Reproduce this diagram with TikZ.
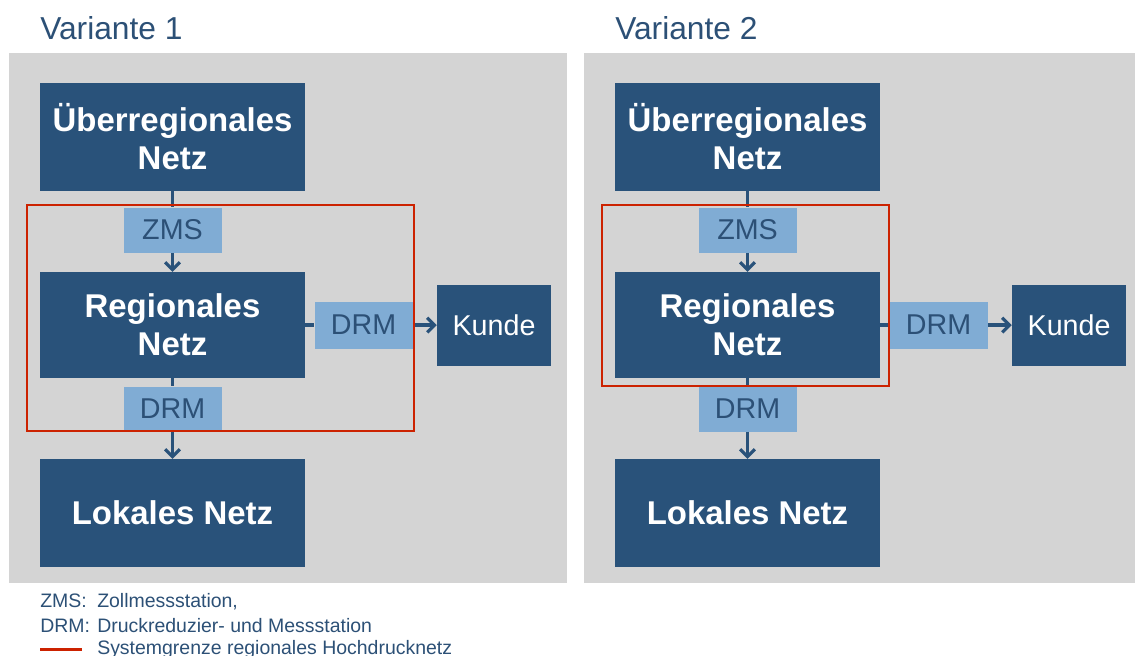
\documentclass[tikz,border=0pt]{standalone}
\usepackage{fontspec}
\setmainfont{Liberation Sans}
\usetikzlibrary{arrows.meta, positioning}
\definecolor{netzblau}{RGB}{41,82,122}
\definecolor{stationblau}{RGB}{128,172,212}
\definecolor{hintergrund}{RGB}{212,212,212}
\definecolor{grenzrot}{RGB}{204,34,0}
\definecolor{textblau}{RGB}{44,80,118}

\begin{document}
\begin{tikzpicture}[x=0.75pt, y=-0.75pt, >={Straight Barb[length=5.5pt, width=11pt]}]
	\tikzset{%
		netz/.style={rectangle, fill=netzblau, text=white, font={\fontsize{24.7}{28.5}\selectfont\bfseries}, align=center, inner sep=0pt, minimum width=198.75pt},
		station/.style={rectangle, fill=stationblau, text=textblau, font={\fontsize{21.5}{25}\selectfont}, inner sep=0pt, minimum width=73.5pt, minimum height=33.75pt},
		kunde/.style={rectangle, fill=netzblau, text=white, font={\fontsize{21.5}{25}\selectfont}, inner sep=0pt, minimum width=85.5pt, minimum height=60.75pt},
		verbindung/.style={draw=netzblau, line width=2.4pt},
		grenze/.style={draw=grenzrot, line width=1.8pt},
		legende/.style={anchor=base west, text=textblau, font={\fontsize{14.6}{17}\selectfont}, inner sep=0pt}
	}
	\useasboundingbox (0,0) rectangle (1135,656);
	\foreach \nr/\dx in {1/0, 2/575} {
		\fill[hintergrund] (\dx+9,53) rectangle (\dx+567,583);
		\node[anchor=base west, inner sep=0pt, text=textblau, font={\fontsize{23.8}{27}\selectfont}] (titel\nr) at (\dx+40,40) {Variante \nr};
		\node[netz, minimum height=81pt] (ueber\nr) at (\dx+172.5,137) {Überregionales\\Netz};
		\node[station, below=12pt of ueber\nr] (zms\nr) {ZMS};
		\node[netz, minimum height=79.5pt, below=14.25pt of zms\nr] (regional\nr) {Regionales\\Netz};
		\node[station, below=6pt of regional\nr] (drmunten\nr) {DRM};
		\node[netz, minimum height=81pt, below=20.25pt of drmunten\nr] (lokal\nr) {Lokales Netz};
		\node[station, minimum height=35.25pt, right=6.75pt of regional\nr] (drmrechts\nr) {DRM};
		\node[kunde, right=18pt of drmrechts\nr] (kunde\nr) {Kunde};
		\draw[verbindung] (ueber\nr) -- (zms\nr);
		\draw[verbindung, ->] (zms\nr) -- (regional\nr);
		\draw[verbindung] (regional\nr) -- (drmunten\nr);
		\draw[verbindung, ->] (drmunten\nr) -- (lokal\nr);
		\draw[verbindung] (regional\nr) -- (drmrechts\nr);
		\draw[verbindung, ->] (drmrechts\nr) -- (kunde\nr);
	}
	% Systemgrenzen
	\draw[grenze] (27,205) rectangle (414,431);
	\draw[grenze] (602,205) rectangle (889,386);
	% Legende
	\node[legende] (legzms) at (40,607) {ZMS:};
	\node[legende] (legzmstext) at (97,607) {Zollmessstation,};
	\node[legende] (legdrm) at (40,632) {DRM:};
	\node[legende] (legdrmtext) at (97,632) {Druckreduzier- und Messstation};
	\coordinate (linieanfang) at (40,649);
	\coordinate (linieende) at (82,649);
	\draw[grenzrot, line width=2.25pt] (linieanfang) -- (linieende);
	\node[legende] (leggrenze) at (97,654) {Systemgrenze regionales Hochdrucknetz};
\end{tikzpicture}
\end{document}
